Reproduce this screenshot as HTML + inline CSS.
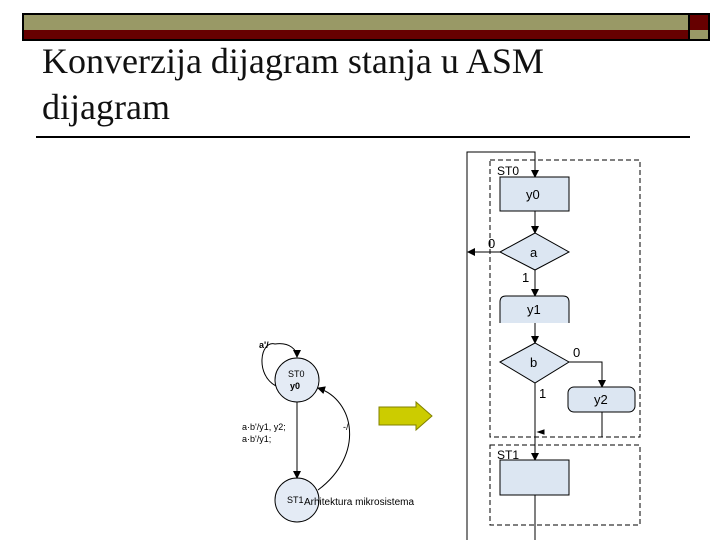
<!DOCTYPE html>
<html><head><meta charset="utf-8"><style>
body{margin:0;width:720px;height:540px;background:#fff;overflow:hidden;position:relative;font-family:"Liberation Sans",sans-serif}
.t{position:absolute;left:42px;font-family:"Liberation Serif",serif;font-size:36px;color:#111;line-height:46px}
</style></head><body>
<div style="position:absolute;left:22px;top:13px;width:664px;height:15px;background:#999966;border:2px solid #000"></div>
<div style="position:absolute;left:22px;top:30px;width:664px;height:9px;background:#660000;border:2px solid #000;border-top:0"></div>
<div style="position:absolute;left:688px;top:13px;width:18px;height:15px;background:#660000;border:2px solid #000"></div>
<div style="position:absolute;left:688px;top:30px;width:18px;height:9px;background:#999966;border:2px solid #000;border-top:0"></div>
<div class="t" style="top:38px">Konverzija dijagram stanja u ASM</div>
<div class="t" style="top:84px">dijagram</div>
<div style="position:absolute;left:36px;top:136px;width:654px;height:2px;background:#000"></div>
<svg width="720" height="540" style="position:absolute;left:0;top:0" font-family="Liberation Sans,sans-serif">
<defs><marker id="a" markerWidth="8" markerHeight="8" refX="7" refY="4" orient="auto" markerUnits="userSpaceOnUse"><path d="M0,0L8,4L0,8z" fill="#000"/></marker></defs>
<g stroke="#000" fill="none" stroke-width="1">
<path d="M467,540V152H535V177" marker-end="url(#a)"/>
<rect x="490" y="160" width="150" height="277" stroke-dasharray="5,3"/>
<rect x="490" y="445" width="150" height="80" stroke-dasharray="5,3"/>
<path d="M535,211V233" marker-end="url(#a)"/>
<path d="M500,252H468" marker-end="url(#a)"/>
<path d="M535,270V296" marker-end="url(#a)"/>
<path d="M535,323V343" marker-end="url(#a)"/>
<path d="M569,362H602V387" marker-end="url(#a)"/>
<path d="M602,412V437"/>
<path d="M535,383V460" marker-end="url(#a)"/>
<path d="M535,495V540"/>
<path d="M544,430L538,432L544,434z" fill="#000"/>
</g>
<g fill="#dce6f2" stroke="#000">
<rect x="500" y="177" width="69" height="34"/>
<path d="M500,252L535,233L569,252L535,270z"/>
<path d="M500,323V302Q500,296 506,296H563Q569,296 569,302V323"/>
<rect x="568" y="387" width="67" height="25" rx="6"/>
<path d="M500,362L535,343L569,362L535,383z"/>
<rect x="500" y="460" width="69" height="35"/>
</g>
<g font-size="13" fill="#000">
<text x="497" y="175" font-size="12">ST0</text>
<text x="526" y="199">y0</text>
<text x="530" y="257">a</text>
<text x="488" y="248">0</text>
<text x="522" y="282">1</text>
<text x="527" y="314">y1</text>
<text x="530" y="367">b</text>
<text x="573" y="357">0</text>
<text x="539" y="398">1</text>
<text x="594" y="404">y2</text>
<text x="497" y="459" font-size="12">ST1</text>
</g>
<g stroke="#000" fill="none">
<circle cx="297" cy="380" r="22" fill="#e4ebf5"/>
<circle cx="297" cy="500" r="22" fill="#e4ebf5"/>
<path d="M297,402V478" marker-end="url(#a)"/>
<path d="M276,386C255,375 260,340 275,344C290,342 297,350 297,357" marker-end="url(#a)"/>
<path d="M318,490C365,455 355,400 318,388" marker-end="url(#a)"/>
</g>
<g font-size="9" fill="#000">
<text x="259" y="348" font-weight="bold">a'/</text>
<text x="288" y="377">ST0</text>
<text x="290" y="389" font-weight="bold">y0</text>
<text x="242" y="430">a·b'/y1, y2;</text>
<text x="242" y="442">a·b'/y1;</text>
<text x="343" y="430">-/</text>
<text x="287" y="503">ST1</text>
<text x="304" y="505" font-size="10">Arhitektura mikrosistema</text>
</g>
<path d="M379,407H416V402L432,416L416,430V425H379z" fill="#cccc00" stroke="#808000"/>
</svg>
</body></html>
